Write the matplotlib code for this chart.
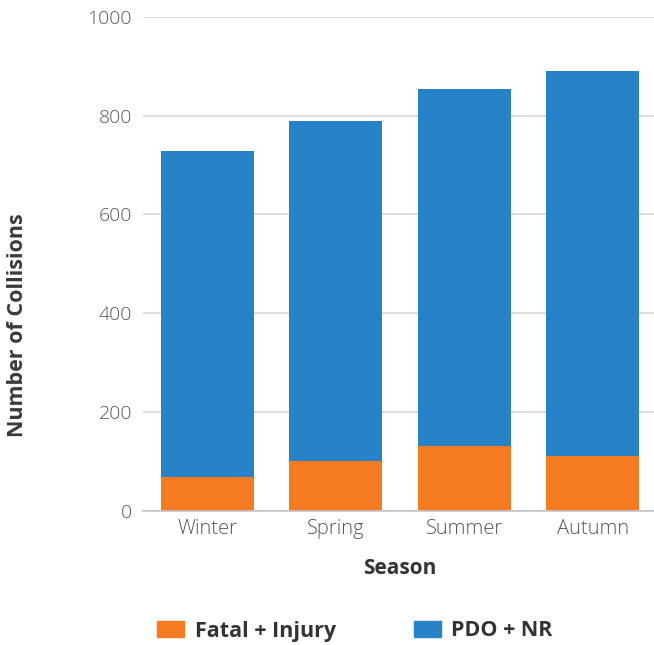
import matplotlib
matplotlib.use("Agg")
import matplotlib.pyplot as plt
import numpy as np
from matplotlib.patches import Patch

seasons = ["Winter", "Spring", "Summer", "Autumn"]
fatal_injury = [68, 100, 131, 111]
pdo_nr = [661, 690, 724, 780]
yticks = [0, 200, 400, 600, 800, 1000]

ORANGE = "#F47B20"
BLUE = "#2882C8"

plt.rcParams['font.family'] = ['Open Sans', 'DejaVu Sans']

fig = plt.figure(figsize=(6.54, 6.45), dpi=100)
ax = fig.add_axes([143/654, (645-510.5)/645, (657-143)/654, (510.5-17)/645])

x = np.arange(len(seasons))
w = 0.725
ax.bar(x, fatal_injury, w, color=ORANGE, label="Fatal + Injury", zorder=3)
ax.bar(x, pdo_nr, w, bottom=fatal_injury, color=BLUE, label="PDO + NR", zorder=3)

ax.set_xlim(-0.5, 3.5)
ax.set_ylim(0, 1000)
ax.set_yticks(yticks)
ax.set_yticklabels([str(v) for v in yticks], fontsize=14, color="#555555", fontweight='light')
ax.set_xticks(x)
ax.set_xticklabels(seasons, fontsize=14.5, color="#555555", fontweight='light')
ax.tick_params(axis='both', length=0, pad=8)
ax.tick_params(axis='x', pad=6)

ax.yaxis.grid(True, color="#D6D6D6", linewidth=1.2, zorder=0)
for s in ["top", "right", "left"]:
    ax.spines[s].set_visible(False)
ax.spines["bottom"].set_color("#C4C4CC")
ax.spines["bottom"].set_linewidth(1.2)
ax.spines["bottom"].set_zorder(4)

ax.set_xlabel("Season", fontsize=15, fontweight='bold', color="#333333", labelpad=14)
fig.text(18/654, 1-325/645, "Number of Collisions", rotation=90, fontsize=15.5,
         fontweight='bold', color="#3A3A3A", ha='center', va='center')

handles = [Patch(color=ORANGE, label="Fatal + Injury"), Patch(color=BLUE, label="PDO + NR")]
leg = fig.legend(handles=handles, loc='center', bbox_to_anchor=(355/654, 1-631/645), ncol=2,
                 frameon=False, prop={'size': 15.5, 'weight': 'bold'}, handlelength=1.25,
                 handleheight=0.7, columnspacing=3.6, handletextpad=0.5)
for t in leg.get_texts():
    t.set_color("#333333")

fig.savefig("out.png", dpi=100)
